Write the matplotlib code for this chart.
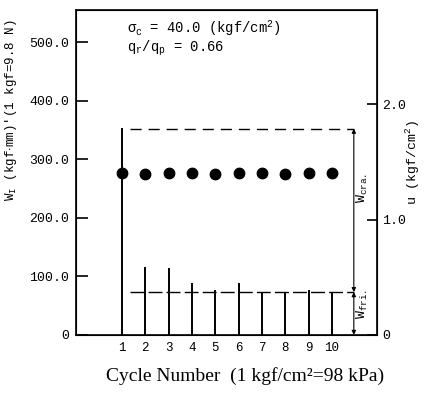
import numpy as np
import matplotlib
matplotlib.use("Agg")
import matplotlib.pyplot as plt

plt.rcParams['font.family'] = 'Liberation Mono'
plt.rcParams['mathtext.fontset'] = 'custom'
plt.rcParams['mathtext.rm'] = 'Liberation Mono'
plt.rcParams['mathtext.it'] = 'Liberation Mono'

# data
cycles = [1, 2, 3, 4, 5, 6, 7, 8, 9, 10]
w_peak = [354, 116, 114, 89, 77, 89, 73, 72, 77, 73]
w_dot = [277, 275, 277, 276, 275, 276, 276, 275, 276, 276]
w_cra_level = 352
w_fri_level = 73

yticks = [0, 100, 200, 300, 400, 500]
ytick_labels = ['0', '100.0', '200.0', '300.0', '400.0', '500.0']
u_ticks = [0, 1.0, 2.0]
u_labels = ['0', '1.0', '2.0']
w_per_u = 197.0

fig = plt.figure(figsize=(4.24, 3.94), dpi=100)
ax = fig.add_axes([0.179, 0.150, 0.710, 0.825])

ax.vlines(cycles, 0, w_peak, colors='black', linewidth=1.4)
ax.plot(cycles, w_dot, 'o', color='black', markersize=7.5)

x_end = 10.94
ax.plot([1.35, x_end], [w_cra_level, w_cra_level], color='black', lw=1.0,
        dashes=(8, 5))
ax.plot([1.35, x_end], [w_fri_level, w_fri_level], color='black', lw=1.0,
        dashes=(10, 3))

ax.annotate('', xy=(x_end, w_cra_level), xytext=(x_end, w_fri_level),
            arrowprops=dict(arrowstyle='<|-|>', color='black', lw=0.8,
                            mutation_scale=6, shrinkA=0, shrinkB=0))
ax.annotate('', xy=(x_end, w_fri_level), xytext=(x_end, 0),
            arrowprops=dict(arrowstyle='<|-|>', color='black', lw=0.8,
                            mutation_scale=6, shrinkA=0, shrinkB=0))
ax.text(11.32, 250, r'W$_{\rm cra.}$', rotation=90, fontsize=9.5,
        ha='center', va='center')
ax.text(11.32, 52, r'W$_{\rm fri.}$', rotation=90, fontsize=9.5,
        ha='center', va='center')

ax.text(1.2, 515, r'$\sigma_{\rm c}$ = 40.0 (kgf/cm$^2$)', fontsize=10)
ax.text(1.2, 484, r'q$_{\rm r}$/q$_{\rm p}$ = 0.66', fontsize=10)

ax.set_xlim(-0.97, 11.93)
ax.set_ylim(0, 555)
ax.set_xticks(cycles)
ax.set_xticklabels([str(c) for c in cycles], fontsize=9)
ax.set_yticks(yticks)
ax.set_yticklabels(ytick_labels, fontsize=9.5)
ax.tick_params(axis='x', length=0, pad=5)
ax.tick_params(axis='y', direction='in', length=8.5, width=1.2, pad=5)
for s in ax.spines.values():
    s.set_linewidth(1.2)

ax.set_ylabel(r"W$_{\rm I}$ (kgf$\cdot$mm)'(1 kgf=9.8 N)", fontsize=9)
ax.yaxis.set_label_coords(-0.19, 0.69)
fig.text(245 / 424, 1 - 376 / 394, 'Cycle Number  (1 kgf/cm\u00b2=98 kPa)',
         fontsize=14, family='Liberation Serif', ha='center', va='center')

ax2 = ax.twinx()
ax2.set_ylim(0, 555 / w_per_u)
ax2.set_yticks(u_ticks)
ax2.set_yticklabels(u_labels, fontsize=9.5)
ax2.tick_params(axis='y', direction='in', length=7, width=1.2, pad=4)
ax2.set_ylabel(r'u (kgf/cm$^2$)', fontsize=9.5)
ax2.yaxis.set_label_coords(1.09, 0.53)

fig.savefig('out.png', dpi=100)
